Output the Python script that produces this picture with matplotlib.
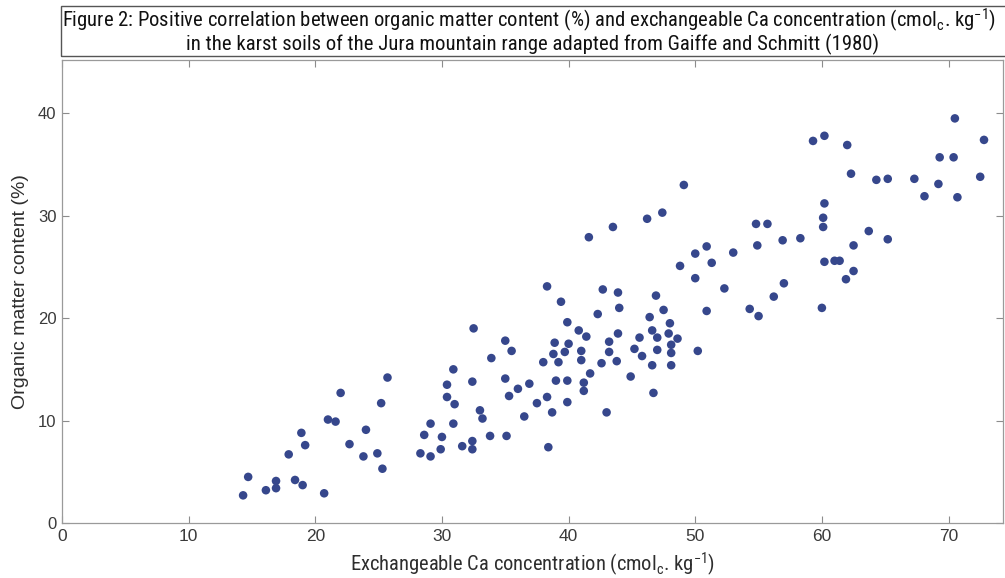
import matplotlib
matplotlib.use("Agg")
import matplotlib.pyplot as plt
from matplotlib.patches import Rectangle

# exchangeable Ca (cmolc/kg) and organic matter (%)
ca = [14.3, 14.7, 16.1, 16.9, 16.9, 18.4, 19.0, 20.7, 17.9, 18.9, 19.2, 21.0, 21.6,
      22.0, 22.7, 24.0, 23.8, 24.9, 25.3, 25.2, 25.7,
      32.5, 35.0, 35.5, 33.9, 30.9, 30.4, 32.4, 35.0, 36.0, 36.9, 30.4, 31.0, 35.3,
      37.5, 33.0, 33.2, 36.5, 29.1, 30.9, 28.6, 30.0, 33.8, 35.1, 31.6, 32.4, 32.4,
      29.9, 28.3, 29.1,
      49.1, 47.4, 46.2, 43.5, 41.6, 54.8, 54.9, 50.9, 50.0, 53.0, 51.3, 48.8, 50.0,
      52.3, 50.9, 54.3, 55.0, 38.3, 39.4, 42.7, 43.9, 46.9, 42.3, 44.0, 39.9, 46.4,
      47.5, 48.0, 40.8, 41.4, 43.9, 46.6, 47.9, 48.6, 45.6, 47.0, 38.9, 40.0, 43.2,
      48.1, 45.2, 47.0, 38.8, 39.7, 41.0, 43.2, 48.1, 50.2, 45.8, 38.0, 39.2, 41.0,
      42.6, 43.8, 46.6, 48.1, 41.7, 44.9, 39.0, 39.9, 41.2, 41.2, 46.7, 38.3, 39.9,
      70.5, 72.8, 59.3, 60.2, 62.0, 69.3, 70.4, 62.3, 64.3, 65.2, 67.3, 69.2, 72.5,
      68.1, 70.7, 60.2, 60.1, 60.1, 55.7, 56.9, 58.3, 62.5, 63.7, 65.2, 60.2, 61.0,
      61.4, 62.5, 61.9, 57.0, 56.2, 60.0,
      38.7, 43.0, 38.4]
om = [2.7, 4.5, 3.2, 3.4, 4.1, 4.2, 3.7, 2.9, 6.7, 8.8, 7.6, 10.1, 9.9,
      12.7, 7.7, 9.1, 6.5, 6.8, 5.3, 11.7, 14.2,
      19.0, 17.8, 16.8, 16.1, 15.0, 13.5, 13.8, 14.1, 13.1, 13.6, 12.3, 11.6, 12.4,
      11.7, 11.0, 10.2, 10.4, 9.7, 9.7, 8.6, 8.4, 8.5, 8.5, 7.5, 8.0, 7.2,
      7.2, 6.8, 6.5,
      33.0, 30.3, 29.7, 28.9, 27.9, 29.2, 27.1, 27.0, 26.3, 26.4, 25.4, 25.1, 23.9,
      22.9, 20.7, 20.9, 20.2, 23.1, 21.6, 22.8, 22.5, 22.2, 20.4, 21.0, 19.6, 20.1,
      20.8, 19.5, 18.8, 18.2, 18.5, 18.8, 18.5, 18.0, 18.1, 18.1, 17.6, 17.5, 17.7,
      17.4, 17.0, 16.9, 16.5, 16.7, 16.8, 16.7, 16.6, 16.8, 16.3, 15.7, 15.7, 15.9,
      15.6, 15.8, 15.4, 15.4, 14.6, 14.3, 13.9, 13.9, 13.7, 12.9, 12.7, 12.3, 11.8,
      39.5, 37.4, 37.3, 37.8, 36.9, 35.7, 35.7, 34.1, 33.5, 33.6, 33.6, 33.1, 33.8,
      31.9, 31.8, 31.2, 29.8, 28.9, 29.2, 27.6, 27.8, 27.1, 28.5, 27.7, 25.5, 25.6,
      25.6, 24.6, 23.8, 23.4, 22.1, 21.0,
      10.8, 10.8, 7.4]

x_ticks = [0, 10, 20, 30, 40, 50, 60, 70]
y_ticks = [0, 10, 20, 30, 40]

title_1 = ("Figure 2: Positive correlation between organic matter content (%) and "
           "exchangeable Ca concentration (cmol$_c$. kg$^{-1}$)")
title_2 = "in the karst soils of the Jura mountain range adapted from Gaiffe and Schmitt (1980)"
x_label = "Exchangeable Ca concentration (cmol$_c$. kg$^{-1}$)"
y_label = "Organic matter content (%)"

narrow = ["Roboto Condensed", "Liberation Sans Narrow", "Liberation Sans", "DejaVu Sans"]
plt.rcParams["font.family"] = ["Liberation Sans", "DejaVu Sans"]
plt.rcParams["mathtext.fontset"] = "custom"
plt.rcParams["mathtext.rm"] = "Liberation Sans"
plt.rcParams["mathtext.default"] = "regular"

fig = plt.figure(figsize=(10.05, 5.78), dpi=100)
ax = fig.add_axes([62 / 1005, 1 - 523 / 578, 941 / 1005, 463 / 578])

ax.scatter(ca, om, s=38, color="#36478c", edgecolors="none", zorder=3)

ax.set_xlim(0, 74.3)
ax.set_ylim(0, 45.2)
ax.set_xticks(x_ticks)
ax.set_yticks(y_ticks)
ax.tick_params(direction="in", length=5, width=0.8, color="#8c8c8c",
               top=True, right=True, labelsize=12, labelcolor="#3a3a3a", pad=4)
for lab in ax.get_xticklabels():
    lab.set_fontsize(12.5)
for sp in ax.spines.values():
    sp.set_color("#9a9a9a")
    sp.set_linewidth(0.9)

xl = ax.set_xlabel(x_label, family=narrow, fontsize=14, color="#2e2e2e", labelpad=5)
ax.set_ylabel(y_label, fontsize=14, color="#2e2e2e", labelpad=6)

# boxed caption above the axes
fig.patches.append(Rectangle((61 / 1005, 1 - 56 / 578), 960 / 1005, 50 / 578,
                             transform=fig.transFigure, fill=False,
                             edgecolor="#555555", linewidth=1.0))
t1 = fig.text(62 / 1005, 1 - 20 / 578, title_1, family=narrow, fontsize=14,
              ha="left", va="center", color="#111111")
t2 = fig.text(533 / 1005, 1 - 44 / 578, title_2, family=narrow, fontsize=14,
              ha="center", va="center", color="#111111")

# the original uses a condensed face: shrink each text to its width in the figure
fig.canvas.draw()
r = fig.canvas.get_renderer()
for t, w in [(t1, 938), (t2, 694), (xl, 366)]:
    cur = t.get_window_extent(r).width
    t.set_fontsize(t.get_fontsize() * w / cur)

fig.savefig("out.png", dpi=100, facecolor="white")
